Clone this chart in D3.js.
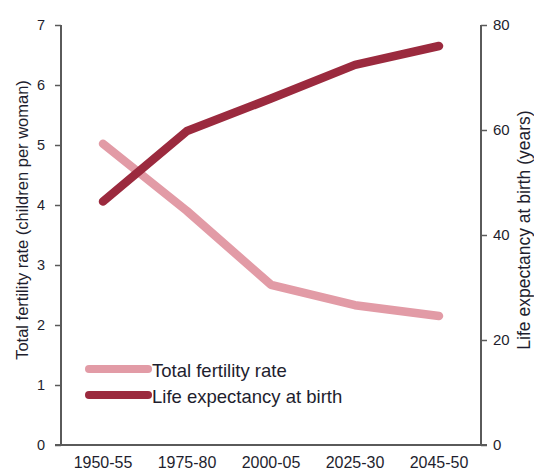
<!DOCTYPE html>
<html>
<head>
<meta charset="utf-8">
<script src="https://cdn.jsdelivr.net/npm/d3@7"></script>
<style>
  html, body { margin: 0; padding: 0; background: #fff; }
  svg { display: block; font-family: "Liberation Sans", Arial, sans-serif; }
</style>
</head>
<body>
<svg id="chart" width="534" height="475"></svg>
<script>
// Periods on the x axis
const periods = ["1950-55", "1975-80", "2000-05", "2025-30", "2045-50"];
// Total fertility rate (children per woman)
const fertility = [5.02, 3.9, 2.67, 2.33, 2.15];
// Life expectancy at birth (years)
const lifeExpectancy = [46.4, 59.8, 66.0, 72.4, 76.0];
// Tick values for each vertical axis
const leftTicks = [0, 1, 2, 3, 4, 5, 6, 7];
const rightTicks = [0, 20, 40, 60, 80];

const svg = d3.select("#chart");
const margin = { left: 61, right: 53, top: 25, bottom: 30 };
const W = 534, H = 475;
const x0 = margin.left, x1 = W - margin.right;
const y0 = H - margin.bottom, y1 = margin.top;

const x = d3.scaleBand().domain(periods).range([x0, x1]).padding(0);
const yL = d3.scaleLinear().domain([0, 7]).range([y0, y1]);
const yR = d3.scaleLinear().domain([0, 80]).range([y0, y1]);

const axisColor = "#5a5a5a";
const textColor = "#1e1e2e";

// Left axis
const gL = svg.append("g").attr("transform", `translate(${x0},0)`)
  .call(d3.axisLeft(yL).tickValues(leftTicks).tickSize(6).tickPadding(10).tickFormat(d3.format("d")));
// Right axis
const gR = svg.append("g").attr("transform", `translate(${x1},0)`)
  .call(d3.axisRight(yR).tickValues(rightTicks).tickSize(6).tickPadding(6).tickFormat(d3.format("d")));
// Bottom axis (labels only, no ticks)
const gB = svg.append("g").attr("transform", `translate(0,${y0})`)
  .call(d3.axisBottom(x).tickSize(0).tickPadding(12));

[gL, gR, gB].forEach(g => {
  g.select(".domain").attr("stroke", axisColor).attr("stroke-width", 2);
  g.selectAll(".tick line").attr("stroke", axisColor).attr("stroke-width", 1.5);
  g.selectAll(".tick text").attr("fill", textColor)
    .style("font-family", "'Liberation Sans', Arial, sans-serif");
});
gL.selectAll(".tick text").style("font-size", "14.5px");
gR.selectAll(".tick text").style("font-size", "15px");
gB.selectAll(".tick text").style("font-size", "16px");
gB.select(".domain").attr("d", `M${x0 - 6},0H${x1 + 6}`);
gL.select(".domain").attr("d", `M0,${y1}V${y0}`);
gR.select(".domain").attr("d", `M0,${y1}V${y0}`);

// Axis titles
svg.append("text")
  .attr("transform", `translate(28,220) rotate(-90)`)
  .attr("text-anchor", "middle")
  .attr("fill", textColor).style("font-size", "16.5px")
  .text("Total fertility rate (children per woman)");
svg.append("text")
  .attr("transform", `translate(530,230) rotate(-90)`)
  .attr("text-anchor", "middle")
  .attr("fill", textColor).style("font-size", "17.5px")
  .text("Life expectancy at birth (years)");

const cx = d => x(d) + x.bandwidth() / 2;
const pink = "#e29ba6";
const dark = "#9b2a3e";

svg.append("path")
  .datum(periods.map((p, i) => [cx(p), yL(fertility[i])]))
  .attr("d", d3.line())
  .attr("fill", "none").attr("stroke", pink).attr("stroke-width", 8.5)
  .attr("stroke-linecap", "round").attr("stroke-linejoin", "round");

svg.append("path")
  .datum(periods.map((p, i) => [cx(p), yR(lifeExpectancy[i])]))
  .attr("d", d3.line())
  .attr("fill", "none").attr("stroke", dark).attr("stroke-width", 8.5)
  .attr("stroke-linecap", "round").attr("stroke-linejoin", "round");

// Legend
const legend = [
  { label: "Total fertility rate", color: pink, y: 369 },
  { label: "Life expectancy at birth", color: dark, y: 395 }
];
const lg = svg.append("g");
lg.selectAll("line").data(legend).join("line")
  .attr("x1", 89).attr("x2", 148)
  .attr("y1", d => d.y).attr("y2", d => d.y)
  .attr("stroke", d => d.color).attr("stroke-width", 8)
  .attr("stroke-linecap", "round");
lg.selectAll("text").data(legend).join("text")
  .attr("x", 152).attr("y", d => d.y + 7.5)
  .attr("fill", textColor).style("font-size", "18.5px")
  .text(d => d.label);
</script>
</body>
</html>
